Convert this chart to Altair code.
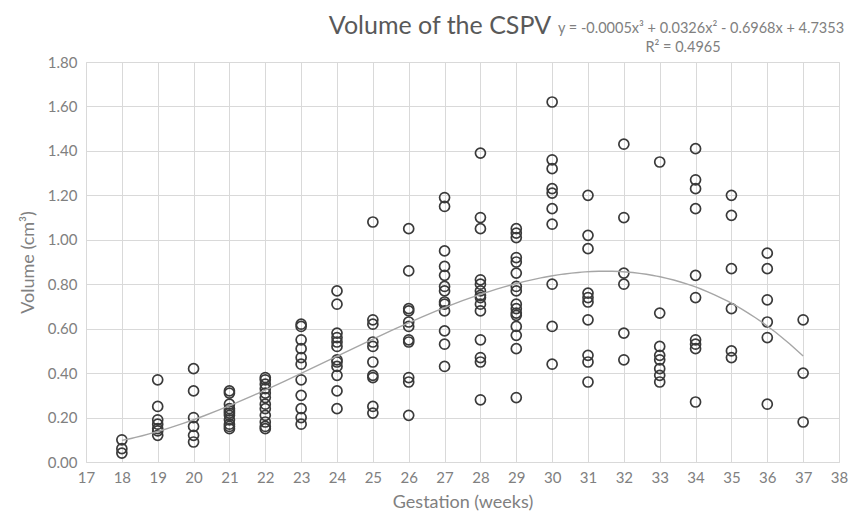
import altair as alt
import pandas as pd

# Volume (cm3) readings per gestational week
vol_18 = [0.10, 0.06, 0.04]
vol_19 = [0.37, 0.25, 0.19, 0.17, 0.15, 0.14, 0.12]
vol_20 = [0.42, 0.32, 0.20, 0.16, 0.12, 0.09]
vol_21 = [0.32, 0.31, 0.26, 0.24, 0.23, 0.22, 0.21, 0.19, 0.17, 0.16, 0.15]
vol_22 = [0.38, 0.37, 0.35, 0.33, 0.31, 0.29, 0.26, 0.24, 0.21, 0.18, 0.16, 0.15]
vol_23 = [0.62, 0.61, 0.55, 0.51, 0.47, 0.44, 0.37, 0.30, 0.24, 0.20, 0.17]
vol_24 = [0.77, 0.71, 0.58, 0.56, 0.54, 0.52, 0.46, 0.45, 0.43, 0.39, 0.32, 0.24]
vol_25 = [1.08, 0.64, 0.62, 0.54, 0.52, 0.45, 0.39, 0.38, 0.25, 0.22]
vol_26 = [1.05, 0.86, 0.69, 0.68, 0.63, 0.61, 0.55, 0.54, 0.38, 0.36, 0.21]
vol_27 = [1.19, 1.15, 0.95, 0.88, 0.84, 0.79, 0.77, 0.72, 0.71, 0.68, 0.59, 0.53, 0.43]
vol_28 = [1.39, 1.10, 1.05, 0.82, 0.80, 0.77, 0.75, 0.74, 0.71, 0.68, 0.55, 0.47, 0.45, 0.28]
vol_29 = [1.05, 1.03, 1.01, 0.92, 0.90, 0.85, 0.79, 0.77, 0.71, 0.69, 0.67, 0.66, 0.61, 0.57, 0.51, 0.29]
vol_30 = [1.62, 1.36, 1.32, 1.23, 1.21, 1.14, 1.07, 0.80, 0.61, 0.44]
vol_31 = [1.20, 1.02, 0.96, 0.76, 0.74, 0.72, 0.64, 0.48, 0.45, 0.36]
vol_32 = [1.43, 1.10, 0.85, 0.80, 0.58, 0.46]
vol_33 = [1.35, 0.67, 0.52, 0.48, 0.46, 0.42, 0.39, 0.36]
vol_34 = [1.41, 1.27, 1.23, 1.14, 0.84, 0.74, 0.55, 0.53, 0.51, 0.27]
vol_35 = [1.20, 1.11, 0.87, 0.69, 0.50, 0.47]
vol_36 = [0.94, 0.87, 0.73, 0.63, 0.56, 0.26]
vol_37 = [0.64, 0.40, 0.18]

weeks = list(range(18, 38))
series = [vol_18, vol_19, vol_20, vol_21, vol_22, vol_23, vol_24, vol_25, vol_26,
          vol_27, vol_28, vol_29, vol_30, vol_31, vol_32, vol_33, vol_34, vol_35,
          vol_36, vol_37]

x_ticks = list(range(17, 39))
y_ticks = [0.0, 0.2, 0.4, 0.6, 0.8, 1.0, 1.2, 1.4, 1.6, 1.8]

title_text = "Volume of the CSPV"
eq_text = "y = -0.0005x³ + 0.0326x² - 0.6968x + 4.7353"
r2_text = "R² = 0.4965"

rows = []
for w, vals in zip(weeks, series):
    for v in vals:
        rows.append({"week": w, "volume": v})
df = pd.DataFrame(rows)

FONT = "Lato"
GRAY = "#595959"
LGRAY = "#808080"

x_axis = alt.Axis(values=x_ticks, format="d", title="Gestation (weeks)",
                  grid=True, gridColor="#d9d9d9", domain=False, ticks=False,
                  labelOverlap=False, labelFlush=False,
                  labelPadding=8, labelFontSize=15, labelColor=LGRAY,
                  titleFontSize=18, titleFontWeight="normal", titleColor=LGRAY,
                  titlePadding=8, labelFont=FONT, titleFont=FONT)
y_axis = alt.Axis(values=y_ticks, format=".2f", title="Volume (cm³)",
                  grid=True, gridColor="#d9d9d9", domain=False, ticks=False,
                  labelOverlap=False, labelFlush=False,
                  labelPadding=9, labelFontSize=15, labelColor=LGRAY,
                  titleFontSize=18, titleFontWeight="normal", titleColor=LGRAY,
                  titlePadding=10, labelFont=FONT, titleFont=FONT)
x_scale = alt.Scale(domain=[17, 38], nice=False)
y_scale = alt.Scale(domain=[0, 1.8], nice=False)

points = alt.Chart(df).mark_point(
    shape="circle", filled=False, size=100, strokeWidth=1.7, color="#3a3a3a", opacity=1
).encode(
    x=alt.X("week:Q", scale=x_scale, axis=x_axis),
    y=alt.Y("volume:Q", scale=y_scale, axis=y_axis),
)

trend = alt.Chart(df).transform_regression(
    "week", "volume", method="poly", order=3
).mark_line(color="#a6a6a6", strokeWidth=1.4).encode(
    x=alt.X("week:Q", scale=x_scale, axis=x_axis),
    y=alt.Y("volume:Q", scale=y_scale, axis=y_axis),
)

title_df = pd.DataFrame({"t": [title_text]})
title_mark = alt.Chart(title_df).mark_text(
    font=FONT, fontSize=25, color=GRAY, align="center", baseline="alphabetic"
).encode(text="t:N", x=alt.value(354), y=alt.value(-28))

eq_df = pd.DataFrame({"t": [eq_text]})
eq_mark = alt.Chart(eq_df).mark_text(
    font=FONT, fontSize=14.5, color=LGRAY, align="left", baseline="alphabetic"
).encode(text="t:N", x=alt.value(472), y=alt.value(-29))

r2_df = pd.DataFrame({"t": [r2_text]})
r2_mark = alt.Chart(r2_df).mark_text(
    font=FONT, fontSize=14.5, color=LGRAY, align="center", baseline="alphabetic"
).encode(text="t:N", x=alt.value(597), y=alt.value(-10))

chart = alt.layer(points, trend, title_mark, eq_mark, r2_mark).properties(
    width=753, height=400,
    autosize=alt.AutoSizeParams(type="none"),
    padding={"left": 78, "top": 54, "right": 13, "bottom": 50},
).configure_view(stroke=None).configure(background="white")

chart.save("out.html", embed_options={"renderer": "svg", "actions": False})
